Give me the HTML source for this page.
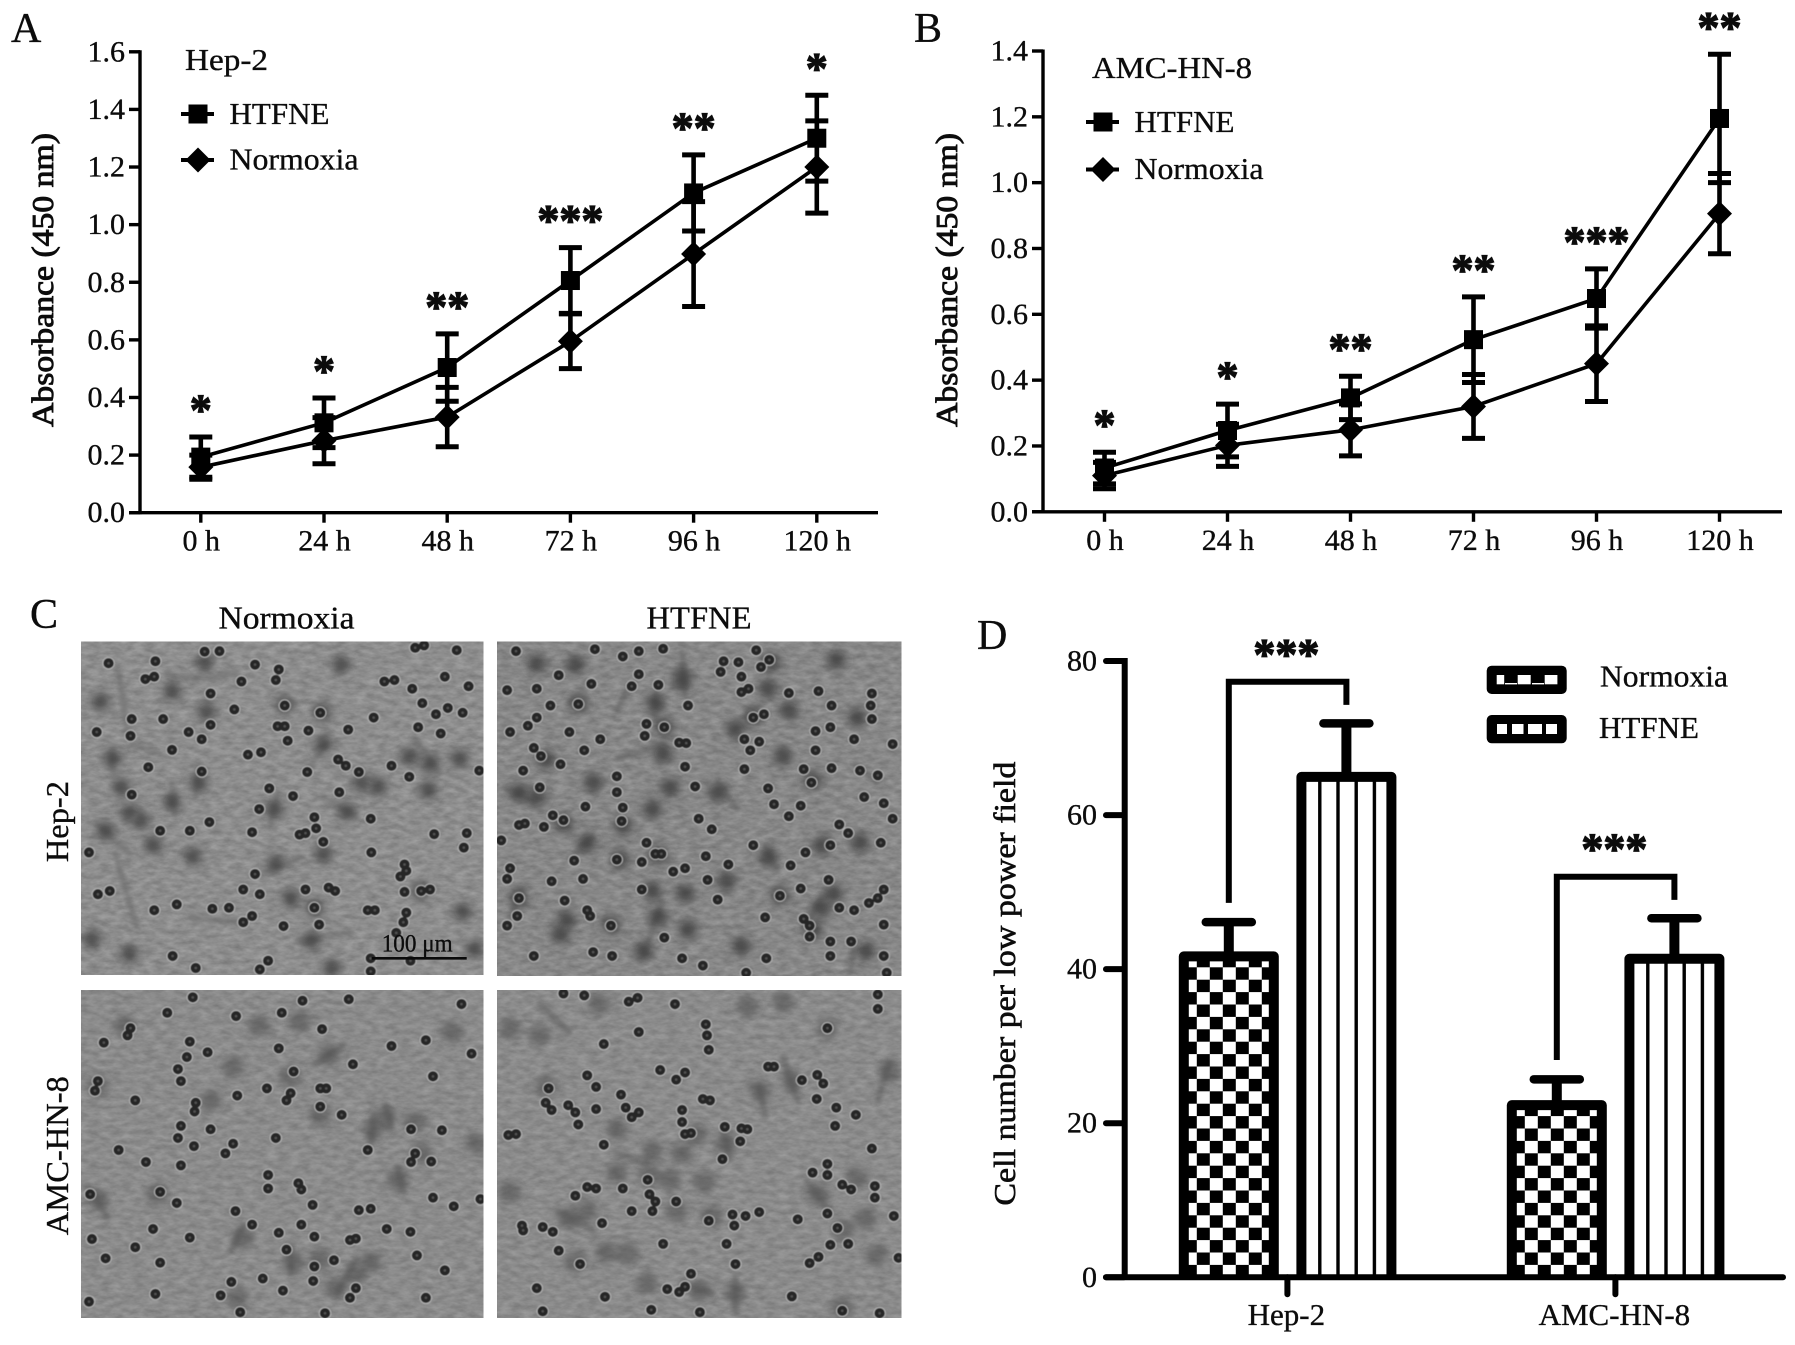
<!DOCTYPE html>
<html lang="en">
<head>
<meta charset="utf-8">
<title>Cell proliferation and invasion under HTFNE and normoxia</title>
<style>
html,body{margin:0;padding:0;background:#fff;width:1795px;height:1345px;overflow:hidden}
svg{display:block}
text{font-family:"Liberation Serif",serif;fill:#0c0c0c;stroke:#0c0c0c;stroke-width:.35}
.dot{fill:none;stroke-linecap:round;stroke-linejoin:round;vector-effect:non-scaling-stroke}
</style>
</head>
<body>
<svg id="figure" xmlns="http://www.w3.org/2000/svg" width="1795" height="1345" viewBox="0 0 1795 1345">
<defs>
<filter id="blur-body" filterUnits="userSpaceOnUse" x="0" y="600" width="960" height="745"><feGaussianBlur stdDeviation="4"/></filter>
<filter id="blur-core" filterUnits="userSpaceOnUse" x="0" y="600" width="960" height="745"><feGaussianBlur stdDeviation="2"/></filter>
<filter id="blur-soft" filterUnits="userSpaceOnUse" x="0" y="600" width="960" height="745"><feGaussianBlur stdDeviation=".6"/></filter>
<filter id="grain" color-interpolation-filters="sRGB" x="0" y="0" width="100%" height="100%"><feTurbulence type="fractalNoise" baseFrequency=".09 .2" numOctaves="3" seed="7"/><feColorMatrix type="matrix" values="1.2 0 0 0 -.05  1.2 0 0 0 -.05  1.2 0 0 0 -.05  0 0 0 0 1"/></filter>
<clipPath id="clip-1"><rect x="81" y="641.5" width="402.5" height="333.5"/></clipPath>
<clipPath id="clip-2"><rect x="497" y="641.5" width="404.5" height="334.5"/></clipPath>
<clipPath id="clip-3"><rect x="81" y="990" width="402.5" height="328"/></clipPath>
<clipPath id="clip-4"><rect x="497" y="990" width="404.5" height="328"/></clipPath>

<path id="dots-1" class="dot" d="M345 128h.1M370 127h.1M262 148h.1M183 152h.1M430 155h.1M470 165h.1M245 185h.1M260 180h.1M407 190h.1M465 187h.1M648 190h.1M665 187h.1M700 120h.1M715 115h.1M770 125h.1M750 180h.1M790 200h.1M695 205h.1M355 215h.1M480 240h.1M540 255h.1M712 235h.1M735 258h.1M755 245h.1M780 255h.1M630 265h.1M222 268h.1M275 268h.1M395 248h.1M355 280h.1M468 283h.1M480 283h.1M705 285h.1M520 292h.1M587 290h.1M163 295h.1M220 303h.1M318 295h.1M743 298h.1M485 313h.1M340 310h.1M290 332h.1M440 337h.1M418 342h.1M570 352h.1M660 365h.1M250 368h.1M340 377h.1M518 378h.1M583 365h.1M605 378h.1M690 388h.1M808 375h.1M572 420h.1M454 412h.1M494 428h.1M222 425h.1M437 455h.1M530 472h.1M625 475h.1M270 500h.1M320 500h.1M353 482h.1M425 503h.1M505 508h.1M515 505h.1M533 495h.1M732 507h.1M787 505h.1M545 523h.1M782 535h.1M150 545h.1M626 545h.1M682 570h.1M685 583h.1M675 595h.1M430 590h.1M565 625h.1M554 618h.1M515 622h.1M410 622h.1M438 632h.1M682 627h.1M710 625h.1M725 622h.1M165 632h.1M185 625h.1M298 653h.1M260 665h.1M358 662h.1M386 660h.1M620 665h.1M632 665h.1M530 660h.1M425 677h.1M410 690h.1M478 698h.1M685 670h.1M538 695h.1M680 690h.1M668 712h.1M291 760h.1M330 785h.1M452 770h.1M438 788h.1M625 765h.1M692 770h.1M625 792h.1"/>
<path id="bodies-1" class="dot" d="M575 155h.1M290 210h.1M345 150h.1M170 232h.1M480 238h.1M543 253h.1M348 252h.1M190 350h.1M545 320h.1M690 345h.1M725 360h.1M775 350h.1M610 400h.1M637 408h.1M722 415h.1M205 410h.1M218 462h.1M237 478h.1M462 455h.1M585 460h.1M290 440h.1M178 500h.1M258 530h.1M325 553h.1M545 548h.1M465 568h.1M490 640h.1M530 660h.1M780 668h.1M155 725h.1M218 755h.1M525 728h.1M560 785h.1M800 745h.1M335 400h.1M710 625h.1"/>
<path id="spindles-1" class="dot" d="M200 170L215 300M280 175Q340 195 400 170M190 330L190 380M290 400L295 470M335 360L330 430M545 430L600 470M470 420L455 490M440 590L510 555M500 730L590 710M195 550L230 700M220 320L270 340M160 480L220 550M320 680L410 690M550 320L520 370M700 310L740 380"/>
<path id="dots-2" class="dot" d="M870 127h.1M1003 123h.1M1077 127h.1M1118 122h.1M1275 125h.1M1297 145h.1M1050 138h.1M1220 148h.1M1245 150h.1M1283 160h.1M1215 170h.1M1250 180h.1M942 177h.1M997 195h.1M1077 175h.1M1065 200h.1M1110 197h.1M855 208h.1M905 205h.1M1250 212h.1M1262 205h.1M1330 214h.1M1380 210h.1M1470 215h.1M928 240h.1M975 237h.1M1160 240h.1M1288 258h.1M1270 265h.1M1402 240h.1M1468 240h.1M905 265h.1M1090 278h.1M1470 268h.1M1400 285h.1M890 282h.1M1120 285h.1M1255 310h.1M1375 293h.1M860 295h.1M960 295h.1M1087 303h.1M1012 310h.1M1145 317h.1M1157 318h.1M1280 315h.1M1505 320h.1M1440 310h.1M900 328h.1M985 333h.1M1265 333h.1M1375 333h.1M912 345h.1M945 362h.1M1040 387h.1M1155 367h.1M1255 372h.1M1355 372h.1M1402 370h.1M1450 375h.1M1480 385h.1M882 375h.1M910 410h.1M1040 420h.1M1172 408h.1M1295 412h.1M1368 400h.1M1457 430h.1M1305 445h.1M1050 452h.1M987 450h.1M1350 448h.1M1490 443h.1M1330 470h.1M1505 475h.1M932 468h.1M885 485h.1M950 478h.1M1178 475h.1M875 488h.1M917 492h.1M1048 480h.1M1200 497h.1M1415 487h.1M1430 505h.1M845 520h.1M1090 525h.1M1270 530h.1M1358 545h.1M1400 530h.1M1485 525h.1M1190 553h.1M968 562h.1M1040 560h.1M1082 565h.1M1105 548h.1M1115 548h.1M1228 570h.1M1135 585h.1M1155 578h.1M1333 572h.1M860 578h.1M855 600h.1M930 605h.1M983 600h.1M1193 602h.1M1397 602h.1M1082 622h.1M1490 622h.1M1315 635h.1M1350 620h.1M875 640h.1M1210 643h.1M952 645h.1M1480 640h.1M1415 660h.1M1440 665h.1M990 665h.1M995 677h.1M1465 650h.1M872 677h.1M855 697h.1M1030 697h.1M1290 680h.1M1355 683h.1M1365 697h.1M1490 695h.1M1120 722h.1M1365 720h.1M1435 730h.1M1400 730h.1M1000 752h.1M900 760h.1M1032 760h.1M1150 765h.1M1185 780h.1M1292 765h.1M1400 760h.1M1490 760h.1M1258 795h.1M1495 795h.1"/>
<path id="bodies-2" class="dot" d="M905 153h.1M970 155h.1M1150 190h.1M1105 235h.1M975 235h.1M1295 205h.1M1330 250h.1M1445 265h.1M1120 285h.1M920 352h.1M1118 340h.1M1000 400h.1M875 420h.1M905 430h.1M1130 410h.1M1210 420h.1M1320 345h.1M1370 395h.1M1050 490h.1M1100 455h.1M990 525h.1M950 485h.1M1110 550h.1M1045 560h.1M1295 555h.1M1155 630h.1M1100 625h.1M1225 605h.1M1315 635h.1M1405 630h.1M1385 660h.1M875 640h.1M955 685h.1M1030 695h.1M1110 680h.1M945 715h.1M1160 705h.1M1250 740h.1M1370 705h.1M1460 750h.1M1085 750h.1M1450 525h.1M1385 530h.1M1150 180h.1M1410 145h.1M1300 150h.1M1270 262h.1M1240 290h.1"/>
<path id="spindles-2" class="dot" d="M1150 130L1155 215M1105 210L1105 270M1040 350L1120 320M1115 650L1085 760M1385 640L1355 700M1440 730L1435 790M850 410L900 440M880 620L860 680M1000 510L960 560M1210 400L1240 450M1290 530L1310 580M1060 200L1040 250M1440 360L1480 400"/>
<path id="dots-3" class="dot" d="M325 846h.1M510 853h.1M588 850h.1M778 860h.1M282 878h.1M398 885h.1M475 878h.1M543 912h.1M220 910h.1M215 925h.1M175 940h.1M660 947h.1M718 935h.1M320 938h.1M470 952h.1M350 960h.1M315 970h.1M795 963h.1M595 985h.1M300 995h.1M495 1000h.1M730 1010h.1M305 1020h.1M165 1020h.1M160 1040h.1M450 1035h.1M540 1035h.1M550 1035h.1M400 1050h.1M490 1045h.1M483 1060h.1M228 1060h.1M330 1065h.1M328 1083h.1M540 1073h.1M576 1090h.1M305 1113h.1M355 1120h.1M693 1120h.1M745 1122h.1M300 1138h.1M465 1138h.1M393 1150h.1M327 1155h.1M620 1163h.1M200 1163h.1M380 1170h.1M700 1170h.1M727 1187h.1M693 1188h.1M246 1188h.1M305 1195h.1M452 1215h.1M452 1243h.1M503 1232h.1M508 1245h.1M270 1250h.1M152 1255h.1M730 1262h.1M298 1273h.1M527 1277h.1M765 1280h.1M397 1290h.1M605 1288h.1M625 1285h.1M810 1265h.1M425 1318h.1M508 1318h.1M258 1327h.1M470 1335h.1M652 1327h.1M692 1333h.1M155 1348h.1M320 1345h.1M530 1343h.1M483 1370h.1M228 1365h.1M178 1388h.1M270 1397h.1M703 1382h.1M563 1392h.1M590 1350h.1M600 1347h.1M530 1405h.1M750 1413h.1M443 1430h.1M390 1437h.1M528 1435h.1M477 1455h.1M600 1450h.1M150 1478h.1M372 1465h.1M718 1470h.1M262 1462h.1M548 1502h.1M405 1500h.1M590 1470h.1"/>
<path id="bodies-3" class="dot" d="M437 905h.1M505 895h.1M555 965h.1M762 918h.1M393 990h.1M210 905h.1M355 1060h.1M490 1010h.1M630 1120h.1M650 1095h.1M700 1105h.1M670 1225h.1M803 1150h.1M710 1170h.1M165 1265h.1M265 1255h.1M540 1090h.1M410 1345h.1M495 1395h.1M540 1390h.1M565 1450h.1M625 1395h.1M600 1420h.1M165 1030h.1M400 1470h.1"/>
<path id="spindles-3" class="dot" d="M530 985L580 945M630 1090L625 1150M650 1070L660 1120M150 1240L180 1300M490 1360L490 1420M600 1390L570 1460M410 1320L390 1370M670 1200L680 1250"/>
<path id="dots-4" class="dot" d="M950 838h.1M985 842h.1M1060 855h.1M1075 847h.1M1138 860h.1M1480 840h.1M1480 870h.1M1190 902h.1M1192 925h.1M1195 955h.1M1077 918h.1M1018 943h.1M1395 910h.1M1113 997h.1M1155 1002h.1M1140 1017h.1M990 1008h.1M1005 1032h.1M1295 990h.1M1305 990h.1M1352 1018h.1M1378 1007h.1M1388 1025h.1M1377 1057h.1M925 1035h.1M1047 1048h.1M920 1065h.1M930 1080h.1M958 1070h.1M1185 1057h.1M1197 1060h.1M1005 1078h.1M1055 1075h.1M1077 1085h.1M970 1085h.1M975 1110h.1M1150 1080h.1M1065 1095h.1M1410 1075h.1M1443 1090h.1M1150 1105h.1M1408 1113h.1M1222 1115h.1M1250 1118h.1M1260 1120h.1M1155 1130h.1M1165 1128h.1M1248 1145h.1M857 1132h.1M870 1130h.1M1018 1152h.1M1470 1160h.1M1218 1182h.1M1395 1192h.1M1395 1215h.1M1370 1210h.1M990 1240h.1M1005 1243h.1M1050 1243h.1M1092 1225h.1M1095 1255h.1M970 1258h.1M1140 1270h.1M1105 1270h.1M1100 1290h.1M1065 1290h.1M1475 1238h.1M1475 1262h.1M1435 1245h.1M1420 1235h.1M1195 1310h.1M1235 1297h.1M1257 1300h.1M1280 1292h.1M1238 1320h.1M1345 1307h.1M1395 1295h.1M1507 1300h.1M1015 1315h.1M880 1320h.1M915 1323h.1M932 1333h.1M882 1330h.1M1118 1358h.1M1225 1358h.1M1400 1360h.1M1430 1358h.1M1412 1325h.1M942 1372h.1M1515 1387h.1M1380 1385h.1M1365 1398h.1M1240 1400h.1M978 1400h.1M1165 1420h.1M1155 1447h.1M1125 1452h.1M1145 1458h.1M905 1450h.1M1020 1468h.1M1335 1467h.1M1098 1495h.1M1180 1500h.1M1420 1497h.1M1483 1502h.1M915 1498h.1"/>
<path id="bodies-4" class="dot" d="M1320 855h.1M1260 865h.1M1395 910h.1M910 925h.1M860 910h.1M1010 860h.1M920 1030h.1M1280 1040h.1M1335 1020h.1M1500 1000h.1M1040 1120h.1M1100 1165h.1M1150 1170h.1M1175 1130h.1M1225 1150h.1M1040 1210h.1M1095 1215h.1M1130 1225h.1M1188 1230h.1M860 1250h.1M1380 1255h.1M1445 1220h.1M990 1290h.1M960 1305h.1M1458 1305h.1M1022 1375h.1M1058 1378h.1M970 1395h.1M1180 1455h.1M1240 1460h.1M1090 1440h.1M1478 1382h.1M1420 1490h.1M1420 1330h.1M1200 1300h.1M1140 1290h.1"/>
<path id="spindles-4" class="dot" d="M1320 970L1345 1060M1280 1030L1290 1090M1500 980L1480 1060M910 860L960 920M1040 1170L1090 1190M1360 1230L1400 1290M940 1290L1000 1330M1240 1430L1240 1500M1150 1440L1200 1460M1220 1130L1230 1180"/>
</defs>

<text x="11" y="42" font-size="42">A</text>
<text x="914" y="42" font-size="42">B</text>
<text x="30" y="628" font-size="42">C</text>
<text x="977" y="649" font-size="42">D</text>

<g id="panel-a"></g>
<g id="panel-b"></g>

<g id="panel-c">
  <text x="286.5" y="628.5" font-size="32" text-anchor="middle" textLength="136" lengthAdjust="spacingAndGlyphs">Normoxia</text>
  <text x="699" y="628.5" font-size="32" text-anchor="middle" textLength="105" lengthAdjust="spacingAndGlyphs">HTFNE</text>
  <text transform="translate(68 821.6) rotate(-90)" font-size="32" text-anchor="middle" textLength="81" lengthAdjust="spacingAndGlyphs">Hep-2</text>
  <text transform="translate(68 1155.7) rotate(-90)" font-size="32" text-anchor="middle" textLength="159" lengthAdjust="spacingAndGlyphs">AMC-HN-8</text>

  <g clip-path="url(#clip-1)">
    <rect x="81" y="641.5" width="402.5" height="333.5" fill="#8e8e8e"/>
    <rect x="81" y="641.5" width="402.5" height="333.5" filter="url(#grain)" opacity=".16"/>
    <g filter="url(#blur-core)"><g transform="translate(0 590) scale(.5931 .4815)"><use href="#spindles-1" stroke="#666" stroke-opacity=".55" stroke-width="6"/></g></g>
    <g filter="url(#blur-body)"><g transform="translate(0 590) scale(.5931 .4815)"><use href="#bodies-1" stroke="#4c4c4c" stroke-opacity=".6" stroke-width="22"/></g></g>
    <g filter="url(#blur-core)"><g transform="translate(0 590) scale(.5931 .4815)"><use href="#bodies-1" stroke="#3a3a3a" stroke-opacity=".45" stroke-width="11"/></g></g>
    <g filter="url(#blur-soft)"><g transform="translate(0 590) scale(.5931 .4815)"><use href="#dots-1" stroke="#b8b8b8" stroke-width="12.5"/><use href="#dots-1" stroke="#262626" stroke-width="10.5"/><use href="#dots-1" stroke="#555" stroke-width="2.5"/></g></g>
    <text x="381.7" y="951.7" font-size="25" textLength="71" lengthAdjust="spacingAndGlyphs">100 μm</text>
    <line x1="371.7" y1="958.3" x2="466.7" y2="958.3" stroke="#0a0a0a" stroke-width="2.6"/>
  </g>
  <g clip-path="url(#clip-2)">
    <rect x="497" y="641.5" width="404.5" height="334.5" fill="#878787"/>
    <rect x="497" y="641.5" width="404.5" height="334.5" filter="url(#grain)" opacity=".16"/>
    <g filter="url(#blur-core)"><g transform="translate(0 590) scale(.5931 .4815)"><use href="#spindles-2" stroke="#5c5c5c" stroke-opacity=".55" stroke-width="6"/></g></g>
    <g filter="url(#blur-body)"><g transform="translate(0 590) scale(.5931 .4815)"><use href="#bodies-2" stroke="#474747" stroke-opacity=".65" stroke-width="22"/></g></g>
    <g filter="url(#blur-core)"><g transform="translate(0 590) scale(.5931 .4815)"><use href="#bodies-2" stroke="#3a3a3a" stroke-opacity=".45" stroke-width="11"/></g></g>
    <g filter="url(#blur-soft)"><g transform="translate(0 590) scale(.5931 .4815)"><use href="#dots-2" stroke="#b8b8b8" stroke-width="12.5"/><use href="#dots-2" stroke="#262626" stroke-width="10.5"/><use href="#dots-2" stroke="#555" stroke-width="2.5"/></g></g>
  </g>
  <g clip-path="url(#clip-3)">
    <rect x="81" y="990" width="402.5" height="328" fill="#8b8b8b"/>
    <rect x="81" y="990" width="402.5" height="328" filter="url(#grain)" opacity=".14"/>
    <g filter="url(#blur-core)"><g transform="translate(0 590) scale(.5931 .4815)"><use href="#spindles-3" stroke="#5c5c5c" stroke-opacity=".55" stroke-width="7"/></g></g>
    <g filter="url(#blur-body)"><g transform="translate(0 590) scale(.5931 .4815)"><use href="#bodies-3" stroke="#4c4c4c" stroke-opacity=".55" stroke-width="22"/></g></g>
    <g filter="url(#blur-soft)"><g transform="translate(0 590) scale(.5931 .4815)"><use href="#dots-3" stroke="#b8b8b8" stroke-width="12.5"/><use href="#dots-3" stroke="#262626" stroke-width="10.5"/><use href="#dots-3" stroke="#555" stroke-width="2.5"/></g></g>
  </g>
  <g clip-path="url(#clip-4)">
    <rect x="497" y="990" width="404.5" height="328" fill="#8b8b8b"/>
    <rect x="497" y="990" width="404.5" height="328" filter="url(#grain)" opacity=".14"/>
    <g filter="url(#blur-core)"><g transform="translate(0 590) scale(.5931 .4815)"><use href="#spindles-4" stroke="#5c5c5c" stroke-opacity=".55" stroke-width="7"/></g></g>
    <g filter="url(#blur-body)"><g transform="translate(0 590) scale(.5931 .4815)"><use href="#bodies-4" stroke="#4c4c4c" stroke-opacity=".55" stroke-width="22"/></g></g>
    <g filter="url(#blur-soft)"><g transform="translate(0 590) scale(.5931 .4815)"><use href="#dots-4" stroke="#b8b8b8" stroke-width="12.5"/><use href="#dots-4" stroke="#262626" stroke-width="10.5"/><use href="#dots-4" stroke="#555" stroke-width="2.5"/></g></g>
  </g>
</g>

<g id="panel-d"></g>
</svg>

<script>
// ---------- chart data ----------
const timeLabels = ['0 h', '24 h', '48 h', '72 h', '96 h', '120 h'];

const aTicks = [0.0, 0.2, 0.4, 0.6, 0.8, 1.0, 1.2, 1.4, 1.6];
const aHtfneMeans = [0.193, 0.312, 0.504, 0.806, 1.11, 1.30];
const aHtfneErrors = [0.070, 0.086, 0.117, 0.114, 0.132, 0.149];
const aNormoxiaMeans = [0.158, 0.25, 0.332, 0.595, 0.898, 1.20];
const aNormoxiaErrors = [0.042, 0.080, 0.103, 0.095, 0.182, 0.160];
const aStars = ['*', '*', '**', '***', '**', '*'];

const bTicks = [0.0, 0.2, 0.4, 0.6, 0.8, 1.0, 1.2, 1.4];
const bHtfneMeans = [0.133, 0.247, 0.346, 0.523, 0.648, 1.195];
const bHtfneErrors = [0.048, 0.080, 0.066, 0.130, 0.090, 0.195];
const bNormoxiaMeans = [0.11, 0.202, 0.249, 0.32, 0.45, 0.906];
const bNormoxiaErrors = [0.040, 0.064, 0.079, 0.097, 0.115, 0.122];
const bStars = ['*', '*', '**', '**', '***', '**'];

const dCategories = ['Hep-2', 'AMC-HN-8'];
const dTicks = [0, 20, 40, 60, 80];
const dNormoxiaMeans = [42.3, 23.0];
const dNormoxiaErrors = [3.8, 2.7];
const dHtfneMeans = [65.6, 42.0];
const dHtfneErrors = [6.3, 4.6];
const dStars = ['***', '***'];

// ---------- helpers ----------
const NS = 'http://www.w3.org/2000/svg';
function mk(parent, tag, props) {
  const el = document.createElementNS(NS, tag);
  for (const k in props) el.setAttribute(k, props[k]);
  parent.appendChild(el);
  return el;
}
function seg(parent, x1, y1, x2, y2, w, cap) {
  return mk(parent, 'line', {x1, y1, x2, y2, stroke: '#000', 'stroke-width': w, 'stroke-linecap': cap || 'butt'});
}
function label(parent, str, x, y, size, anchor, len) {
  const props = {x, y, 'font-size': size, 'text-anchor': anchor};
  if (len) { props.textLength = len; props.lengthAdjust = 'spacingAndGlyphs'; }
  const el = mk(parent, 'text', props);
  el.textContent = str;
  return el;
}
function squareMarker(parent, x, y) {
  return mk(parent, 'rect', {x: x - 9.5, y: y - 9.5, width: 19, height: 19, fill: '#000'});
}
function diamondMarker(parent, x, y) {
  const d = 'M' + x + ' ' + (y - 12.5) + 'L' + (x + 12.5) + ' ' + y + 'L' + x + ' ' + (y + 12.5) + 'L' + (x - 12.5) + ' ' + y + 'Z';
  return mk(parent, 'path', {d, fill: '#000'});
}

// ---------- line charts (panels A, B) ----------
function drawLineChart(g, cfg) {
  const yScale = v => cfg.y0 - (v / cfg.yMax) * (cfg.y0 - cfg.yTop);
  const xScale = i => cfg.x0 + i * cfg.xStep;

  const yAxis = seg(g, cfg.axisX, yScale(cfg.yMax) - 1.5, cfg.axisX, cfg.y0 + 1.5, 3.4);
  
  
  const xAxis = seg(g, cfg.axisX - 11, cfg.y0, cfg.xEnd, cfg.y0, 3.4);
  
  

  cfg.ticks.forEach(t => {
    const tickMark = seg(g, cfg.axisX - 11, yScale(t), cfg.axisX, yScale(t), 3.4);
    
    
    const tickText = label(g, t.toFixed(1), cfg.axisX - 15, yScale(t) + 9.5, 30, 'end');
    
    
  });
  timeLabels.forEach((name, i) => {
    const tickMark = seg(g, xScale(i), cfg.y0, xScale(i), cfg.y0 + 10, 3.4);
    
    
    const tickText = label(g, name, xScale(i) + 0.5, cfg.y0 + 38, 30, 'middle');
    
    
  });

  const title = label(g, 'Absorbance (450 nm)', 0, 0, 31, 'middle', 294);
  title.setAttribute('transform', 'translate(' + cfg.titleX + ' 280) rotate(-90)');
  title.setAttribute('stroke-width', '.9');
  title.style.strokeWidth = '.9px';
  
  

  const series = [
    {name: 'htfne', means: cfg.htfneMeans, errs: cfg.htfneErrors, marker: squareMarker},
    {name: 'normoxia', means: cfg.normMeans, errs: cfg.normErrors, marker: diamondMarker}
  ];
  series.forEach(s => {
    const line = mk(g, 'polyline', {
      points: s.means.map((m, i) => xScale(i) + ',' + yScale(m)).join(' '),
      fill: 'none', stroke: '#000', 'stroke-width': 3.6, 'stroke-linejoin': 'round'
    });
    
    
    s.means.forEach((m, i) => {
      const x = xScale(i), hi = yScale(m + s.errs[i]), lo = yScale(m - s.errs[i]);
      const stem = seg(g, x, hi, x, lo, 4.6);
      
      
      const capHi = seg(g, x - 11.5, hi, x + 11.5, hi, 5);
      
      
      const capLo = seg(g, x - 11.5, lo, x + 11.5, lo, 5);
      
      
      const mark = s.marker(g, x, yScale(m));
      
      
    });
  });

  cfg.stars.forEach((st, i) => {
    const top = yScale(cfg.htfneMeans[i] + cfg.htfneErrors[i]);
    const star = label(g, st, xScale(i), top - 29 + 16.5, 44, 'middle');
    star.setAttribute('font-weight', 'bold');
    star.style.strokeWidth = '1.2px';
    
    
  });

  // header and legend
  const head = label(g, cfg.heading, cfg.headX, cfg.headY, 31, 'start', cfg.headLen);
  
  

  const l1 = seg(g, cfg.legX, cfg.leg1Y, cfg.legX + 33, cfg.leg1Y, 4);
  
  
  const m1 = squareMarker(g, cfg.legX + 17, cfg.leg1Y);
  
  
  const t1 = label(g, 'HTFNE', cfg.legX + 48.5, cfg.leg1Y + 10, 31, 'start', 100);
  
  

  const l2 = seg(g, cfg.legX, cfg.leg2Y, cfg.legX + 33, cfg.leg2Y, 4);
  
  
  const m2 = diamondMarker(g, cfg.legX + 17, cfg.leg2Y);
  
  
  const t2 = label(g, 'Normoxia', cfg.legX + 48.5, cfg.leg2Y + 9.5, 31, 'start', 129);
  
  
}

drawLineChart(document.getElementById('panel-a'), {
  axisX: 140, y0: 512.7, yTop: 51.8, yMax: 1.6, xEnd: 878, x0: 200.8, xStep: 123.2,
  ticks: aTicks, htfneMeans: aHtfneMeans, htfneErrors: aHtfneErrors,
  normMeans: aNormoxiaMeans, normErrors: aNormoxiaErrors, stars: aStars,
  titleX: 53, heading: 'Hep-2', headX: 185, headY: 70, headLen: 83,
  legX: 181, leg1Y: 114, leg2Y: 160
});
drawLineChart(document.getElementById('panel-b'), {
  axisX: 1043, y0: 511.8, yTop: 51, yMax: 1.4, xEnd: 1782, x0: 1104.5, xStep: 123,
  ticks: bTicks, htfneMeans: bHtfneMeans, htfneErrors: bHtfneErrors,
  normMeans: bNormoxiaMeans, normErrors: bNormoxiaErrors, stars: bStars,
  titleX: 957, heading: 'AMC-HN-8', headX: 1092, headY: 78, headLen: 160,
  legX: 1086, leg1Y: 122, leg2Y: 169.5
});

// ---------- bar chart (panel D) ----------
(function () {
  const g = document.getElementById('panel-d');
  const defs = document.querySelector('#figure defs');
  const y0 = 1277.3, yTop = 661, yMax = 80;
  const yScale = v => y0 - (v / yMax) * (y0 - yTop);
  const groupX = i => 1287.4 + i * 328;
  const barW = 100, border = 10;
  const checkW = 13, checkH = 12.4;

  function checkPattern(id, x) {
    const p = mk(defs, 'pattern', {id, patternUnits: 'userSpaceOnUse', x, y: y0 - 24 * checkH, width: 2 * checkW, height: 2 * checkH});
    mk(p, 'rect', {width: 2 * checkW, height: 2 * checkH, fill: '#fff'});
    mk(p, 'rect', {width: checkW, height: checkH, fill: '#000'});
    mk(p, 'rect', {x: checkW, y: checkH, width: checkW, height: checkH, fill: '#000'});
  }
  function stripePattern(id, x) {
    const p = mk(defs, 'pattern', {id, patternUnits: 'userSpaceOnUse', x, y: 0, width: 18.2, height: 20});
    mk(p, 'rect', {width: 18.2, height: 20, fill: '#fff'});
    mk(p, 'rect', {width: 3.4, height: 20, fill: '#000'});
  }
  function bar(x, value, fill, name) {
    const top = yScale(value);
    const el = mk(g, 'path', {
      d: 'M' + (x + border / 2) + ' ' + y0 + 'V' + (top + border / 2) + 'H' + (x + barW - border / 2) + 'V' + y0,
      fill, stroke: '#000', 'stroke-width': border, 'stroke-linejoin': 'round'
    });
    
    
  }
  function errorBar(cx, value, err, name) {
    const top = yScale(value), capY = yScale(value + err);
    const stem = seg(g, cx, capY, cx, top + 2, 10);
    
    
    const cap = seg(g, cx - 23, capY, cx + 23, capY, 8.5, 'round');
    
    
  }

  dCategories.forEach((cat, i) => {
    const c = groupX(i);
    const nLeft = c - 108.6, hLeft = c + 9;
    checkPattern('check-' + i, nLeft + 18);
    stripePattern('stripe-' + i, hLeft + 21.7);
    errorBar(nLeft + barW / 2, dNormoxiaMeans[i], dNormoxiaErrors[i], 'normoxia-' + i);
    errorBar(hLeft + barW / 2, dHtfneMeans[i], dHtfneErrors[i], 'htfne-' + i);
    bar(nLeft, dNormoxiaMeans[i], 'url(#check-' + i + ')', 'bar-normoxia-' + cat.toLowerCase());
    bar(hLeft, dHtfneMeans[i], 'url(#stripe-' + i + ')', 'bar-htfne-' + cat.toLowerCase());

    // significance bracket
    const nCap = dNormoxiaMeans[i] + dNormoxiaErrors[i];
    const hCap = dHtfneMeans[i] + dHtfneErrors[i];
    const xL = nLeft + barW / 2, xR = hLeft + barW / 2;
    const topV = Math.max(nCap, hCap) + 5.4;
    const bracket = mk(g, 'polyline', {
      points: xL + ',' + yScale(nCap + 2.5) + ' ' + xL + ',' + yScale(topV) + ' ' + xR + ',' + yScale(topV) + ' ' + xR + ',' + yScale(hCap + 2.4),
      fill: 'none', stroke: '#000', 'stroke-width': 6
    });
    
    
    const star = label(g, dStars[i], c - 1, yScale(topV) - 30 + 17, 44, 'middle');
    star.setAttribute('font-weight', 'bold');
    star.style.strokeWidth = '1.2px';
    
    

    const tickMark = seg(g, c, y0, c, y0 + 17, 6, 'round');
    
    
    const tickText = label(g, cat, c - 1, 1325, 31, 'middle');
    
    
  });

  const yAxis = seg(g, 1124.7, yScale(yMax) - 3, 1124.7, y0, 6);
  
  
  const xAxis = seg(g, 1106, y0, 1783, y0, 6, 'round');
  
  

  dTicks.forEach(t => {
    const tickMark = seg(g, 1106, yScale(t), 1124, yScale(t), 6, 'round');
    
    
    const tickText = label(g, String(t), 1097, yScale(t) + 9.5, 30, 'end');
    
    
  });

  const title = label(g, 'Cell number per low power field', 0, 0, 31, 'middle', 444);
  title.setAttribute('transform', 'translate(1015 983.6) rotate(-90)');
  title.style.strokeWidth = '.6px';
  
  

  // legend
  const sw1 = mk(g, 'rect', {x: 1486.7, y: 665.7, width: 80, height: 28.3, rx: 5, fill: '#000'});
  
  
  [[1496.7, 7.5], [1517.7, 13], [1544.7, 12.7]].forEach(b => {
    mk(g, 'rect', {x: b[0], y: 675, width: b[1], height: 9.3, fill: '#fff'});
  });
  [[1505, 12], [1532, 12]].forEach(b => {
    mk(g, 'rect', {x: b[0], y: 683, width: b[1], height: 1.4, fill: '#fff'});
  });
  const sw2 = mk(g, 'rect', {x: 1486.7, y: 715, width: 80, height: 28.3, rx: 5, fill: '#000'});
  
  
  [[1497, 10], [1512, 11.5], [1528, 14], [1546, 11]].forEach(b => {
    mk(g, 'rect', {x: b[0], y: 724, width: b[1], height: 10, fill: '#fff'});
  });
  const t1 = label(g, 'Normoxia', 1600, 686.7, 31, 'start', 128);
  
  
  const t2 = label(g, 'HTFNE', 1599, 738, 31, 'start', 100);
  
  
})();
</script>
</body>
</html>
